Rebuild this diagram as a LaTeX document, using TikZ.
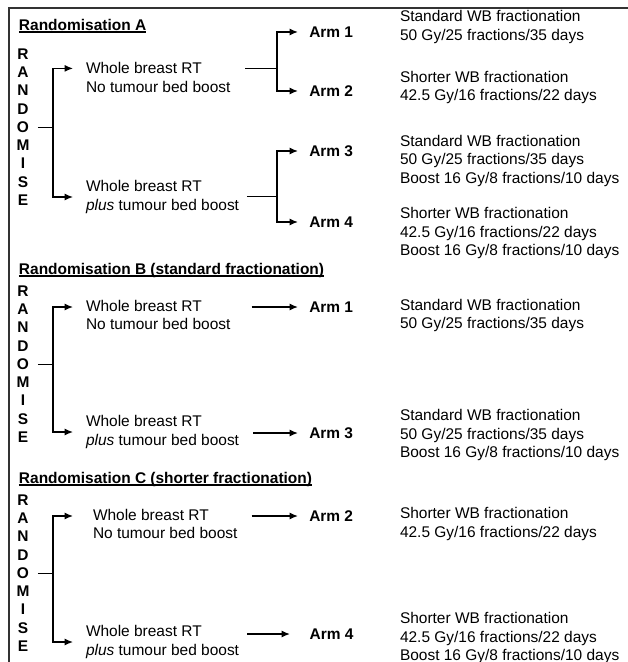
\documentclass[tikz,border=0pt]{standalone}
\usepackage{fontspec}
\setmainfont{Liberation Sans}
\usetikzlibrary{arrows.meta}
\newcommand{\ulhead}[1]{\vtop{\hbox{\smash{#1}}\kern0.6pt\hrule height 0.8pt}}
\tikzstyle{txt}=[inner sep=0pt, outer sep=0pt, anchor=west, align=left, font=\fontsize{11}{13}\selectfont]
\tikzstyle{heading}=[txt, anchor=base west, font=\fontsize{11}{13}\selectfont\bfseries]
\tikzstyle{arm}=[txt, inner xsep=8pt, font=\fontsize{11}{13}\selectfont\bfseries]
\tikzstyle{randletters}=[inner sep=0pt, outer sep=0pt, align=center, font=\fontsize{11}{13}\selectfont\bfseries]
\tikzstyle{link}=[line width=1pt]
\tikzstyle{tick}=[line width=0.6pt]
\tikzstyle{arr}=[link, -{Latex[length=6pt,width=5pt]}]

\begin{document}
\begin{tikzpicture}[x=0.025cm, y=-0.025cm]
        \useasboundingbox (0,0) rectangle (628,662);
        \draw[line width=0.9pt, black!80] (640,8) -- (9,8) -- (9,670);

        \node[heading] (titleA) at (19,30.6) {\ulhead{Randomisation A}};
        \node[randletters] (randA) at (23,127) {R\\A\\N\\D\\O\\M\\I\\S\\E};
        \coordinate (jA) at (53,127);
        \node[txt] (wbA1) at (86,77.5) {Whole breast RT\\No tumour bed boost};
        \node[txt] (wbA2) at (86,197) {Whole breast RT\\\textit{plus} tumour bed boost};
        \coordinate (sA1) at (277,68.4);
        \coordinate (sA2) at (277,196);
        \node[arm] (armA1) at (298,32) {Arm 1};
        \node[arm] (armA2) at (298,91) {Arm 2};
        \node[arm] (armA3) at (298,151) {Arm 3};
        \node[arm] (armA4) at (298,222) {Arm 4};
        \node[txt] (descA1) at (400,27) {Standard WB fractionation\\50 Gy/25 fractions/35 days};
        \node[txt] (descA2) at (400,87.5) {Shorter WB fractionation\\42.5 Gy/16 fractions/22 days};
        \node[txt] (descA3) at (400,161) {Standard WB fractionation\\50 Gy/25 fractions/35 days\\Boost 16 Gy/8 fractions/10 days};
        \node[txt] (descA4) at (400,233) {Shorter WB fractionation\\42.5 Gy/16 fractions/22 days\\Boost 16 Gy/8 fractions/10 days};
        \draw[tick] ([xshift=6pt]randA.east) -- (jA);
        \draw[arr, shorten >=9.2pt] (jA) |- (wbA1.west |- sA1);
        \draw[arr, shorten >=9.2pt] (jA) |- (wbA2.west);
        \draw[tick] (sA1 -| wbA1.east) ++(10.5pt,0) -- (sA1);
        \draw[tick] (sA2 -| wbA2.east) ++(5.5pt,0) -- (sA2);
        \draw[arr] (sA1) |- (armA1);
        \draw[arr] (sA1) |- (armA2);
        \draw[arr] (sA2) |- (armA3);
        \draw[arr] (sA2) |- (armA4);

        \node[heading] (titleB) at (19,274.6) {\ulhead{Randomisation B (standard fractionation)}};
        \node[randletters] (randB) at (23,364) {R\\A\\N\\D\\O\\M\\I\\S\\E};
        \coordinate (jB) at (53,364);
        \node[txt] (wbB1) at (86,315) {Whole breast RT\\No tumour bed boost};
        \node[txt] (wbB2) at (86,432) {Whole breast RT\\\textit{plus} tumour bed boost};
        \node[arm] (armB1) at (298,307) {Arm 1};
        \node[arm] (armB3) at (298,433) {Arm 3};
        \node[txt] (descB1) at (400,315.5) {Standard WB fractionation\\50 Gy/25 fractions/35 days};
        \node[txt] (descB3) at (400,435) {Standard WB fractionation\\50 Gy/25 fractions/35 days\\Boost 16 Gy/8 fractions/10 days};
        \draw[tick] ([xshift=6pt]randB.east) -- (jB);
        \draw[arr, shorten >=9.2pt] (jB) |- (wbB1.west |- armB1);
        \draw[arr, shorten >=9.2pt] (jB) |- (wbB2.west);
        \draw[arr] (armB1 -| wbB1.east) ++(15pt,0) -- (armB1);
        \draw[arr] (armB3 -| wbB2.east) ++(10pt,0) -- (armB3);

        \node[heading] (titleC) at (19,483.6) {\ulhead{Randomisation C (shorter fractionation)}};
        \node[randletters] (randC) at (23,573) {R\\A\\N\\D\\O\\M\\I\\S\\E};
        \coordinate (jC) at (53,573);
        \node[txt] (wbC1) at (93,524) {Whole breast RT\\No tumour bed boost};
        \node[txt] (wbC2) at (86,642) {Whole breast RT\\\textit{plus} tumour bed boost};
        \node[arm] (armC2) at (298,516) {Arm 2};
        \node[arm, inner xsep=14pt] (armC4) at (290,634) {Arm 4};
        \node[txt] (descC2) at (400,524) {Shorter WB fractionation\\42.5 Gy/16 fractions/22 days};
        \node[txt] (descC4) at (400,638) {Shorter WB fractionation\\42.5 Gy/16 fractions/22 days\\Boost 16 Gy/8 fractions/10 days};
        \draw[tick] ([xshift=6pt]randC.east) -- (jC);
        \draw[arr, shorten >=14.2pt] (jC) |- (wbC1.west |- armC2);
        \draw[arr, shorten >=9.2pt] (jC) |- (wbC2.west);
        \draw[arr] (armC2 -| wbC1.east) ++(10pt,0) -- (armC2);
        \draw[arr] (armC4 -| wbC2.east) ++(5.7pt,0) -- (armC4);
    \end{tikzpicture}
\end{document}
